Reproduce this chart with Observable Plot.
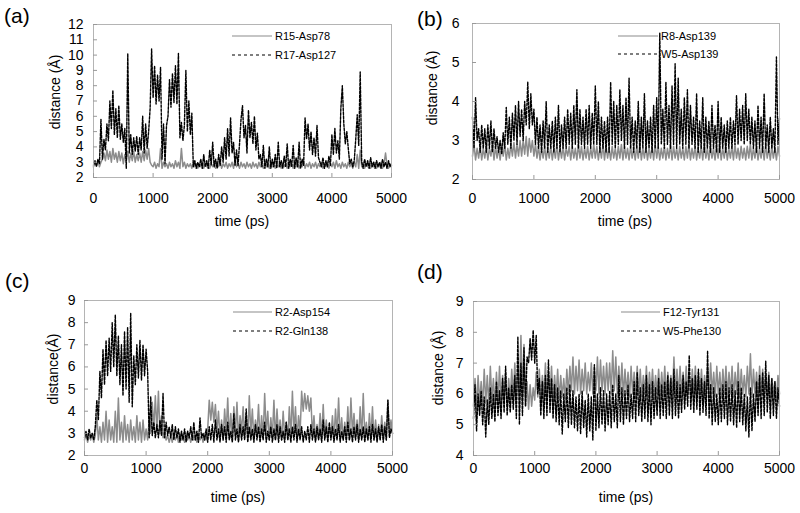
<!DOCTYPE html>
<html><head><meta charset="utf-8">
<script src="https://cdn.jsdelivr.net/npm/d3@7"></script>
<script src="https://cdn.jsdelivr.net/npm/@observablehq/plot@0.6"></script>
<style>
body{margin:0;background:#fff;}
#wrap{position:relative;width:800px;height:513px;overflow:hidden;background:#fff;font-family:"Liberation Sans",Arial,Helvetica,sans-serif;}
.panel{position:absolute;}
#overlay{position:absolute;left:0;top:0;pointer-events:none;}
</style></head><body><div id="wrap"></div>
<script>
// ---- data (distances in Å, sampled every 25 ps from 0 to 5000 ps) ----
const stepPs = 25;
const timeTicks = [0, 1000, 2000, 3000, 4000, 5000];
const ticksA = [2, 3, 4, 5, 6, 7, 8, 9, 10, 11, 12];
const ticksB = [2, 3, 4, 5, 6];
const ticksC = [2, 3, 4, 5, 6, 7, 8, 9];
const ticksD = [4, 5, 6, 7, 8, 9];

const a_R15_Asp78 = [
2.7,3.0,2.8,3.1,2.7,3.0,3.2,3.6, 3.1,3.8,3.2,3.7,3.0,3.9,3.2,3.6,
3.0,3.7,3.1,3.6,2.9,3.5,3.1,3.7, 3.0,3.6,3.1,3.7,3.0,3.5,3.1,3.6,
3.0,3.7,3.1,3.8,3.2,3.9,3.0,2.8, 2.7,3.0,2.6,2.9,2.7,3.9,2.6,3.0,
2.7,2.9,2.6,3.0,2.7,2.9,2.6,3.1, 2.7,3.0,2.6,3.9,2.7,3.0,2.6,2.9,
2.7,2.9,2.6,3.0,2.7,2.9,2.6,2.9, 2.7,3.0,2.6,2.9,2.7,3.0,2.6,2.9,
2.7,3.0,2.6,2.9,2.7,3.1,2.6,2.9, 2.7,3.0,2.6,2.9,2.7,3.0,2.6,3.2,
2.7,2.9,2.6,3.0,2.7,2.9,2.6,3.0, 2.7,2.9,2.6,3.0,2.7,2.9,2.6,3.0,
2.7,2.9,2.6,3.0,2.7,2.9,2.6,3.0, 2.7,3.0,2.6,2.9,2.7,3.0,2.6,2.9,
2.7,2.9,2.6,3.0,2.7,2.9,2.6,3.0, 2.7,3.0,2.6,2.9,2.7,3.1,2.6,2.9,
2.7,3.0,2.6,2.9,2.7,3.0,2.6,2.9, 2.7,3.0,2.6,2.9,2.7,3.0,2.6,2.9,
2.7,3.0,2.6,3.1,2.7,2.9,2.6,3.0, 2.7,2.9,2.6,3.0,2.7,2.9,2.6,3.0,
2.7,3.5,2.6,3.8,2.7,3.0,2.6,2.9, 2.7,3.0,2.6,2.9,2.7,3.0,2.6,2.9,
2.7,3.0,2.6,2.9,3.6,2.8,2.6,2.9, 2.8];
const a_R17_Asp127 = [
2.8,3.1,2.7,3.2,2.9,5.8,3.2,4.5, 3.8,5.5,4.4,7.0,5.2,7.7,4.8,6.5,
4.6,6.7,4.5,5.5,4.3,5.2,2.6,10.1, 3.6,4.8,3.5,4.6,3.7,4.7,3.5,4.6,
3.8,6.0,3.6,5.5,3.9,5.0,6.5,10.4, 7.2,9.3,6.8,8.7,7.0,9.2,3.2,5.5,
2.9,5.4,6.0,8.4,6.6,8.8,6.9,9.3, 6.8,10.1,4.6,5.6,4.4,5.4,9.0,5.0,
7.0,4.8,6.2,2.7,3.1,2.6,3.0,2.7, 3.2,2.6,3.5,2.7,3.1,2.6,3.8,2.8,
4.3,2.7,3.2,2.6,3.5,2.8,4.0,3.0, 4.6,3.2,5.2,3.4,5.9,3.6,4.3,2.8,
3.8,2.8,4.2,5.8,6.7,4.6,5.4,3.6, 6.4,4.6,5.6,4.2,6.0,3.8,4.9,3.2,
3.5,2.7,4.1,2.6,3.2,2.7,4.0,2.6, 3.2,2.7,3.5,2.6,4.3,2.7,3.1,2.6,
3.4,2.7,4.2,2.6,3.2,2.7,4.1,2.6, 3.3,2.7,4.3,2.6,3.2,2.8,5.9,4.5,
5.5,3.8,5.0,3.5,4.6,3.4,5.4,3.3, 3.0,2.7,3.3,2.6,3.1,2.7,3.4,2.8,
4.8,3.5,5.2,3.6,4.4,3.2,6.5,8.0, 5.5,4.2,5.0,3.9,2.9,3.2,2.7,3.1,
4.5,6.1,4.1,8.9,3.0,2.6,3.2,2.7, 3.1,2.6,3.3,2.7,3.0,2.6,3.1,2.7,
3.0,2.6,3.2,2.7,3.0,2.6,3.1,2.7, 2.9];

const b_R8_Asp139 = [
2.6,2.9,2.5,2.8,2.55,2.85,2.5,2.8, 2.55,2.85,2.5,2.8,2.6,2.9,2.5,2.85,
2.55,2.8,2.5,2.85,2.6,2.9,2.5,2.8, 2.55,2.9,2.6,2.95,2.55,2.9,2.6,3.0,
2.6,3.0,2.65,3.1,2.6,3.05,2.7,3.0, 2.6,2.9,2.55,2.85,2.5,2.8,2.55,2.85,
2.5,2.8,2.55,2.85,2.5,2.8,2.55,2.9, 2.5,2.8,2.55,2.85,2.5,2.8,2.6,2.85,
2.5,2.85,2.55,2.8,2.5,2.9,2.55,2.85, 2.5,2.8,2.55,2.85,2.5,2.8,2.55,2.9,
2.55,2.85,2.5,2.8,2.55,2.9,2.5,2.85, 2.55,2.8,2.5,2.85,2.55,2.8,2.5,2.85,
2.55,2.9,2.5,2.85,2.55,2.8,2.5,2.85, 2.55,2.8,2.5,2.85,2.55,2.9,2.5,2.8,
2.55,2.85,2.5,2.8,2.55,2.85,2.5,2.9, 2.55,2.85,2.5,2.8,2.55,2.85,2.5,2.8,
2.55,2.9,2.5,2.85,2.55,2.8,2.5,2.85, 2.55,2.8,2.5,2.85,2.55,2.9,2.5,2.8,
2.55,2.85,2.5,2.8,2.55,2.85,2.5,2.9, 2.55,2.8,2.5,2.85,2.55,2.8,2.5,2.85,
2.55,2.9,2.5,2.8,2.55,2.85,2.5,2.8, 2.55,2.85,2.5,2.9,2.55,2.8,2.5,2.85,
2.55,2.8,2.5,2.85,2.55,2.9,2.5,2.8, 2.55,2.85,2.5,2.8,2.55,2.85,2.5,2.9,
2.55,2.8,2.5,2.85,2.55,2.8,2.5,2.85, 2.6];
const b_W5_Asp139 = [
3.6,2.8,4.1,3.0,3.3,2.7,3.4,2.8, 3.3,2.7,3.4,2.8,3.5,2.7,3.3,2.8,
3.1,2.7,3.0,2.65,3.2,2.8,3.85,2.9, 3.6,2.8,3.7,3.0,3.9,2.9,4.0,3.1,
3.8,3.0,4.0,3.4,4.5,3.3,4.2,3.4, 3.8,2.9,3.6,2.8,3.4,2.7,3.5,2.8,
4.0,2.7,3.4,2.8,3.5,2.7,3.6,2.8, 3.9,2.7,3.4,2.8,3.6,2.8,3.8,2.9,
3.7,2.8,3.9,2.9,4.3,2.8,3.8,2.9, 3.6,2.8,3.8,2.9,3.9,2.8,3.7,2.9,
4.4,2.9,4.0,2.7,3.6,2.8,3.5,2.7, 3.6,2.7,4.5,2.9,4.0,2.8,3.9,2.9,
4.3,3.0,3.9,2.8,4.1,2.9,4.6,2.8, 3.6,2.7,3.5,2.8,4.0,2.7,3.6,2.8,
4.2,2.7,3.5,2.8,3.6,2.7,3.9,2.8, 4.1,2.8,5.75,2.9,3.8,2.8,4.5,2.9,
3.9,2.8,4.4,2.9,4.97,2.8,4.6,2.9, 3.8,2.8,4.1,2.9,4.3,2.8,3.9,2.9,
3.6,2.8,4.2,2.7,3.5,2.8,4.1,2.7, 3.6,2.8,3.5,2.7,3.9,2.8,3.4,2.7,
4.0,2.7,3.6,2.8,3.4,2.7,3.5,2.8, 3.6,2.8,3.5,2.9,4.15,2.9,3.8,3.0,
3.9,2.9,4.2,3.0,3.8,2.9,3.6,2.8, 3.5,2.7,3.9,2.8,3.6,2.7,4.2,2.8,
3.4,2.7,3.6,2.8,3.3,2.7,5.14,2.9, 3.6];

const c_R2_Asp154 = [
2.7,3.0,2.6,2.9,2.7,3.0,2.6,2.9, 3.8,2.7,3.3,2.6,3.5,2.7,4.0,2.6,
3.6,2.7,3.3,2.6,4.0,2.6,4.6,2.7, 3.5,2.6,3.8,2.7,3.4,2.6,3.6,2.7,
3.3,2.6,3.8,2.7,3.5,2.6,3.6,2.7, 3.2,2.7,3.6,3.0,4.4,3.2,4.7,3.1,
4.9,3.0,3.8,2.8,3.1,2.7,2.9,2.6, 2.9,2.6,3.0,2.7,2.9,2.6,3.0,2.7,
2.9,2.6,3.0,2.7,2.9,2.6,3.0,2.7, 2.9,2.6,3.0,2.7,2.9,2.6,3.0,2.7,
3.2,4.5,3.6,4.4,3.5,4.3,3.1,4.0, 2.8,3.6,2.7,4.1,3.0,4.6,2.8,3.9,
2.7,4.2,3.0,4.4,2.7,3.8,3.1,4.2, 2.8,3.9,2.7,4.7,3.0,4.1,2.7,3.6,
3.0,4.3,2.7,3.8,2.8,4.8,3.0,4.0, 2.7,3.7,2.8,4.5,2.7,4.1,2.9,3.6,
2.7,4.0,2.8,3.5,2.7,4.2,2.8,4.9, 3.0,4.2,2.7,3.8,3.0,4.9,4.0,4.8,
4.1,4.7,4.0,4.6,2.9,3.8,2.7,3.4, 2.8,3.9,2.7,4.3,2.8,3.6,2.7,3.3,
2.8,3.8,2.7,4.1,2.9,4.6,2.8,3.7, 2.7,3.5,2.8,4.2,2.7,4.6,3.0,3.9,
2.8,3.6,2.7,4.2,2.8,4.8,2.9,3.5, 2.7,3.9,2.8,4.2,2.7,3.6,2.8,3.4,
2.7,3.8,2.8,3.5,2.7,4.5,2.9,3.6, 3.0];
const c_R2_Gln138 = [
2.8,3.1,2.7,3.2,2.8,3.0,2.7,3.3, 4.5,3.6,5.8,4.6,6.8,5.2,7.2,5.6,
7.3,5.8,8.0,6.0,8.35,5.6,7.4,5.2, 7.0,4.7,7.6,5.0,7.8,4.4,8.43,4.2,
6.5,5.2,7.0,5.5,7.2,5.4,7.0,5.6, 6.8,5.8,2.8,4.66,2.9,3.5,2.8,3.4,
2.8,3.6,2.9,4.8,2.8,3.5,2.9,3.3, 2.8,3.4,2.7,3.3,2.8,3.2,2.6,3.1,
2.7,3.2,2.6,3.1,2.8,3.3,2.7,3.5, 2.7,3.1,2.6,3.7,2.8,3.0,2.7,3.2,
2.6,3.3,2.7,3.4,2.6,3.6,2.7,3.2, 2.6,3.4,2.7,3.3,2.6,3.5,2.7,3.1,
2.6,3.9,2.7,3.2,2.6,3.4,2.7,3.3, 2.7,4.1,2.6,3.3,2.7,3.2,2.6,3.4,
2.7,3.3,2.6,3.2,2.7,3.5,2.6,3.1, 2.7,3.3,2.6,3.2,2.7,3.4,2.6,3.3,
2.7,3.1,2.6,3.5,2.7,3.2,2.6,3.3, 2.7,3.4,2.6,3.2,2.7,3.3,2.6,3.1,
2.7,3.3,2.6,3.4,2.7,3.2,2.6,3.3, 2.7,3.2,2.6,3.6,2.7,3.3,2.6,3.5,
2.7,3.3,2.6,3.2,2.7,3.4,2.6,3.1, 2.7,3.3,2.6,3.5,2.7,3.2,2.6,3.3,
2.7,3.4,2.6,3.2,2.7,3.3,2.6,3.2, 2.7,3.3,2.6,3.4,2.7,3.2,2.6,3.3,
2.7,3.4,2.6,3.3,2.7,4.5,2.8,3.2, 3.0];

const d_F12_Tyr131 = [
5.6,6.5,5.5,6.6,5.7,6.4,5.6,6.8, 5.7,6.6,5.6,6.9,5.8,6.5,5.6,6.7,
5.7,6.9,5.6,6.6,5.8,6.7,5.6,6.5, 5.8,6.8,5.9,7.0,5.8,6.9,6.0,7.9,
5.9,7.6,5.6,6.4,5.5,6.3,5.6,6.2, 5.8,6.7,5.9,6.8,5.8,6.6,5.9,7.0,
5.8,6.7,5.9,6.9,5.8,6.6,5.9,6.8, 5.8,6.6,5.9,6.5,5.8,6.8,6.0,6.9,
6.1,7.2,6.0,6.9,6.1,7.1,6.0,6.8, 6.1,7.0,6.0,6.7,6.1,7.0,6.0,6.9,
6.1,7.2,6.0,7.1,6.1,6.9,6.0,7.0, 6.1,7.0,6.0,7.4,6.1,7.2,6.0,6.9,
6.0,7.0,5.9,6.8,6.0,6.7,5.9,6.9, 6.0,6.7,5.9,6.9,6.0,6.8,5.9,6.6,
6.0,6.9,5.9,6.7,6.0,6.8,5.9,6.6, 6.0,6.8,5.9,6.7,6.0,6.9,5.9,6.7,
6.0,6.6,5.9,7.2,6.0,6.8,5.9,6.9, 6.0,6.7,5.9,6.9,6.0,6.6,5.9,6.8,
6.0,6.9,5.9,6.7,6.0,6.8,5.9,6.6, 6.0,6.8,5.9,7.0,6.0,6.7,5.9,6.9,
6.0,6.7,5.9,6.8,6.0,6.9,5.9,6.7, 6.0,6.9,5.9,6.7,6.0,7.0,5.9,6.8,
6.0,6.6,5.9,6.9,6.0,7.3,5.9,6.8, 6.0,6.7,5.9,6.9,6.0,6.8,5.9,6.6,
6.0,6.7,5.9,6.5,6.0,6.4,5.8,6.6, 6.0];
const d_W5_Phe130 = [
5.2,6.3,4.8,6.0,5.3,6.1,5.0,5.9, 4.6,5.8,5.0,6.2,5.2,6.0,5.1,6.4,
5.3,6.1,5.2,6.5,5.4,6.9,5.3,6.2, 5.4,6.3,5.5,6.6,5.2,7.86,5.0,7.0,
5.3,7.5,5.6,7.2,7.0,7.8,7.1,8.07, 7.0,7.9,6.0,6.5,5.3,6.4,5.2,6.6,
5.3,7.1,5.4,6.5,5.2,6.3,5.1,6.2, 5.0,6.1,4.7,6.0,5.1,6.2,4.9,6.3,
5.0,6.1,4.9,5.9,4.8,6.0,4.7,6.1, 4.9,5.8,4.6,6.0,4.8,5.9,4.5,6.95,
4.8,6.0,4.9,6.2,5.0,6.1,4.8,6.0, 5.0,6.1,4.9,6.3,5.1,6.0,4.9,6.6,
5.1,6.2,5.0,6.1,5.2,6.3,5.1,6.0, 5.2,6.4,5.1,6.7,5.3,6.2,5.1,6.3,
5.2,6.6,5.1,6.3,5.0,6.4,5.2,6.2, 5.3,6.5,5.2,6.3,5.3,6.4,5.2,6.6,
5.3,6.5,5.2,6.8,5.3,6.4,5.2,6.3, 5.4,6.6,5.5,6.4,5.6,7.25,5.5,6.5,
5.4,6.6,5.5,6.8,5.3,6.5,5.4,6.4, 5.3,7.4,5.2,6.3,5.0,6.2,5.1,6.0,
5.0,6.2,5.1,6.3,5.2,6.4,5.0,6.2, 5.1,6.3,5.0,6.1,4.9,6.4,5.1,6.2,
5.0,6.0,4.8,5.9,4.6,6.2,4.8,6.0, 5.1,6.4,5.3,6.6,5.2,6.7,5.3,7.06,
5.4,6.6,5.2,6.5,5.3,6.4,5.2,6.2, 5.6];

// ---- drawing ----
const GRAY = "#8c8c8c";
const FONT = '"Liberation Sans", Arial, Helvetica, sans-serif';
const wrap = document.getElementById("wrap");

function rows(values) {
  return values.map((d, i) => ({t: i * stepPs, d}));
}

function panel({left, top, width, height, frame, yDomain, yTicks, s1, s2, xPad, yPad}) {
  const chart = Plot.plot({
    width, height,
    marginLeft: frame.l, marginRight: width - frame.r,
    marginTop: frame.t, marginBottom: height - frame.b,
    style: {fontFamily: FONT, fontSize: "14px", color: "#000", background: "transparent", overflow: "visible"},
    x: {domain: [0, 5000]},
    y: {domain: yDomain},
    marks: [
      Plot.line(rows(s1), {x: "t", y: "d", stroke: GRAY, strokeWidth: 1.5}),
      Plot.line(rows(s2), {x: "t", y: "d", stroke: "#000", strokeWidth: 1.4, strokeDasharray: "2.5,1.5"}),
      Plot.frame({stroke: "#b4b4b4"}),
      Plot.axisX({ticks: timeTicks, tickSize: -4, tickPadding: xPad, stroke: "#999", fill: "#000", label: null, tickFormat: d3.format("d")}),
      Plot.axisY({ticks: yTicks, tickSize: -4, tickPadding: yPad, stroke: "#999", fill: "#000", label: null, tickFormat: d3.format("d")})
    ]
  });
  chart.classList.add("panel");
  chart.style.left = left + "px";
  chart.style.top = top + "px";
  wrap.appendChild(chart);
}

panel({left: 0, top: 0, width: 400, height: 250, frame: {l: 93, r: 391, t: 24, b: 177},
  yDomain: [2, 12], yTicks: ticksA, s1: a_R15_Asp78, s2: a_R17_Asp127, xPad: 20, yPad: 14});
panel({left: 400, top: 0, width: 400, height: 250, frame: {l: 72, r: 379, t: 23, b: 179},
  yDomain: [2, 6], yTicks: ticksB, s1: b_R8_Asp139, s2: b_W5_Asp139, xPad: 18, yPad: 17});
panel({left: 0, top: 250, width: 400, height: 263, frame: {l: 84, r: 392, t: 50, b: 205},
  yDomain: [2, 9], yTicks: ticksC, s1: c_R2_Asp154, s2: c_R2_Gln138, xPad: 12, yPad: 13});
panel({left: 400, top: 250, width: 400, height: 263, frame: {l: 73, r: 379, t: 51, b: 205},
  yDomain: [4, 9], yTicks: ticksD, s1: d_F12_Tyr131, s2: d_W5_Phe130, xPad: 12, yPad: 14});

// ---- labels & legends overlay ----
const panelLetters = [
  {text: "(a)", x: 4, y: 23}, {text: "(b)", x: 417, y: 26},
  {text: "(c)", x: 5, y: 288}, {text: "(d)", x: 417, y: 279}
];
const yTitles = [
  {text: "distance (Å)", x: 60, y: 92}, {text: "distance (Å)", x: 437, y: 88},
  {text: "distance(Å)", x: 58, y: 369}, {text: "distance (Å)", x: 443, y: 368}
];
const xTitles = [
  {text: "time (ps)", x: 242, y: 226}, {text: "time (ps)", x: 625, y: 226},
  {text: "time (ps)", x: 238, y: 502}, {text: "time (ps)", x: 626, y: 502}
];
const legends = [
  {x1: 232, x2: 272, y1: 36, y2: 55, n1: "R15-Asp78", n2: "R17-Asp127"},
  {x1: 618, x2: 658, y1: 36, y2: 54, n1: "R8-Asp139", n2: "W5-Asp139"},
  {x1: 233, x2: 272, y1: 312, y2: 331, n1: "R2-Asp154", n2: "R2-Gln138"},
  {x1: 621, x2: 660, y1: 312, y2: 331, n1: "F12-Tyr131", n2: "W5-Phe130"}
];

const svg = d3.select(wrap).append("svg").attr("id", "overlay")
  .attr("width", 800).attr("height", 513)
  .style("font-family", FONT);

svg.selectAll("text.letter").data(panelLetters).join("text").attr("class", "letter")
  .attr("x", d => d.x).attr("y", d => d.y).attr("font-size", 21).text(d => d.text);
svg.selectAll("text.ytitle").data(yTitles).join("text").attr("class", "ytitle")
  .attr("transform", d => `translate(${d.x},${d.y}) rotate(-90)`)
  .attr("text-anchor", "middle").attr("font-size", 14).text(d => d.text);
svg.selectAll("text.xtitle").data(xTitles).join("text").attr("class", "xtitle")
  .attr("x", d => d.x).attr("y", d => d.y)
  .attr("text-anchor", "middle").attr("font-size", 14).text(d => d.text);

const lg = svg.selectAll("g.legend").data(legends).join("g").attr("class", "legend");
lg.append("line").attr("x1", d => d.x1).attr("x2", d => d.x2).attr("y1", d => d.y1).attr("y2", d => d.y1)
  .attr("stroke", GRAY).attr("stroke-width", 1.2);
lg.append("line").attr("x1", d => d.x1).attr("x2", d => d.x2).attr("y1", d => d.y2).attr("y2", d => d.y2)
  .attr("stroke", "#000").attr("stroke-width", 1.2).attr("stroke-dasharray", "3,3");
lg.append("text").attr("x", d => d.x2 + 3).attr("y", d => d.y1 + 4).attr("font-size", 11).text(d => d.n1);
lg.append("text").attr("x", d => d.x2 + 3).attr("y", d => d.y2 + 4).attr("font-size", 11).text(d => d.n2);
</script>
</body></html>
